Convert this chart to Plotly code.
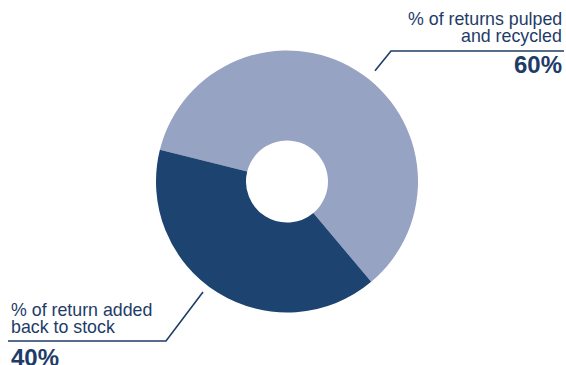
import plotly.graph_objects as go

W, H = 566, 365

labels = ["% of returns pulped and recycled", "% of return added back to stock"]
values = [60, 40]
colors = ["#97A3C3", "#1D4370"]
pct_labels = ["60%", "40%"]
top_lines = ["% of returns pulped", "and recycled"]
bottom_lines = ["% of return added", "back to stock"]

NAVY = "#1E3C68"
FONT = "Liberation Sans, Arial, sans-serif"


def px(x):
    return x / W


def py(y):
    return 1 - y / H


cx, cy, r = 287, 181.5, 131

fig = go.Figure(
    go.Pie(
        labels=labels,
        values=values,
        marker=dict(colors=colors, line=dict(width=0)),
        hole=0.313,
        sort=False,
        direction="clockwise",
        rotation=-76,
        textinfo="none",
        hoverinfo="label+percent",
        showlegend=False,
        domain=dict(x=[px(cx - r), px(cx + r)], y=[py(cy + r), py(cy - r)]),
    )
)

fs = 17.8
ann = []
# top-right texts
ann.append(dict(x=px(564), y=py(25 - 0.35 * fs), text=top_lines[0], xanchor="right", yanchor="middle"))
ann.append(dict(x=px(564), y=py(42 - 0.35 * fs), text=top_lines[1], xanchor="right", yanchor="middle"))
# bottom-left texts
ann.append(dict(x=px(9), y=py(316.5 - 0.35 * fs), text=bottom_lines[0], xanchor="left", yanchor="middle"))
ann.append(dict(x=px(9), y=py(333 - 0.35 * fs), text=bottom_lines[1], xanchor="left", yanchor="middle"))
for a in ann:
    a.update(xref="paper", yref="paper", showarrow=False,
             font=dict(family=FONT, size=fs, color=NAVY))

bfs = 24
ann.append(dict(x=px(564), y=py(73 - 0.35 * bfs), text="<b>%s</b>" % pct_labels[0], xanchor="right",
                yanchor="middle", xref="paper", yref="paper", showarrow=False,
                font=dict(family=FONT, size=bfs, color=NAVY)))
ann.append(dict(x=px(9), y=py(366 - 0.35 * bfs), text="<b>%s</b>" % pct_labels[1], xanchor="left",
                yanchor="middle", xref="paper", yref="paper", showarrow=False,
                font=dict(family=FONT, size=bfs, color=NAVY)))


def path(points):
    return "M " + " L ".join("%f,%f" % (px(x), py(y)) for x, y in points)


shapes = [
    dict(type="path", path=path([(375, 70.7), (391, 51), (564, 51)]), xref="paper", yref="paper",
         line=dict(color=NAVY, width=1.6)),
    dict(type="path", path=path([(8, 341), (166, 341), (203, 292)]), xref="paper", yref="paper",
         line=dict(color=NAVY, width=1.6)),
]

fig.update_layout(
    width=W, height=H,
    margin=dict(l=0, r=0, t=0, b=0),
    paper_bgcolor="white", plot_bgcolor="white",
    annotations=ann, shapes=shapes,
)

fig.write_html("out.html")
